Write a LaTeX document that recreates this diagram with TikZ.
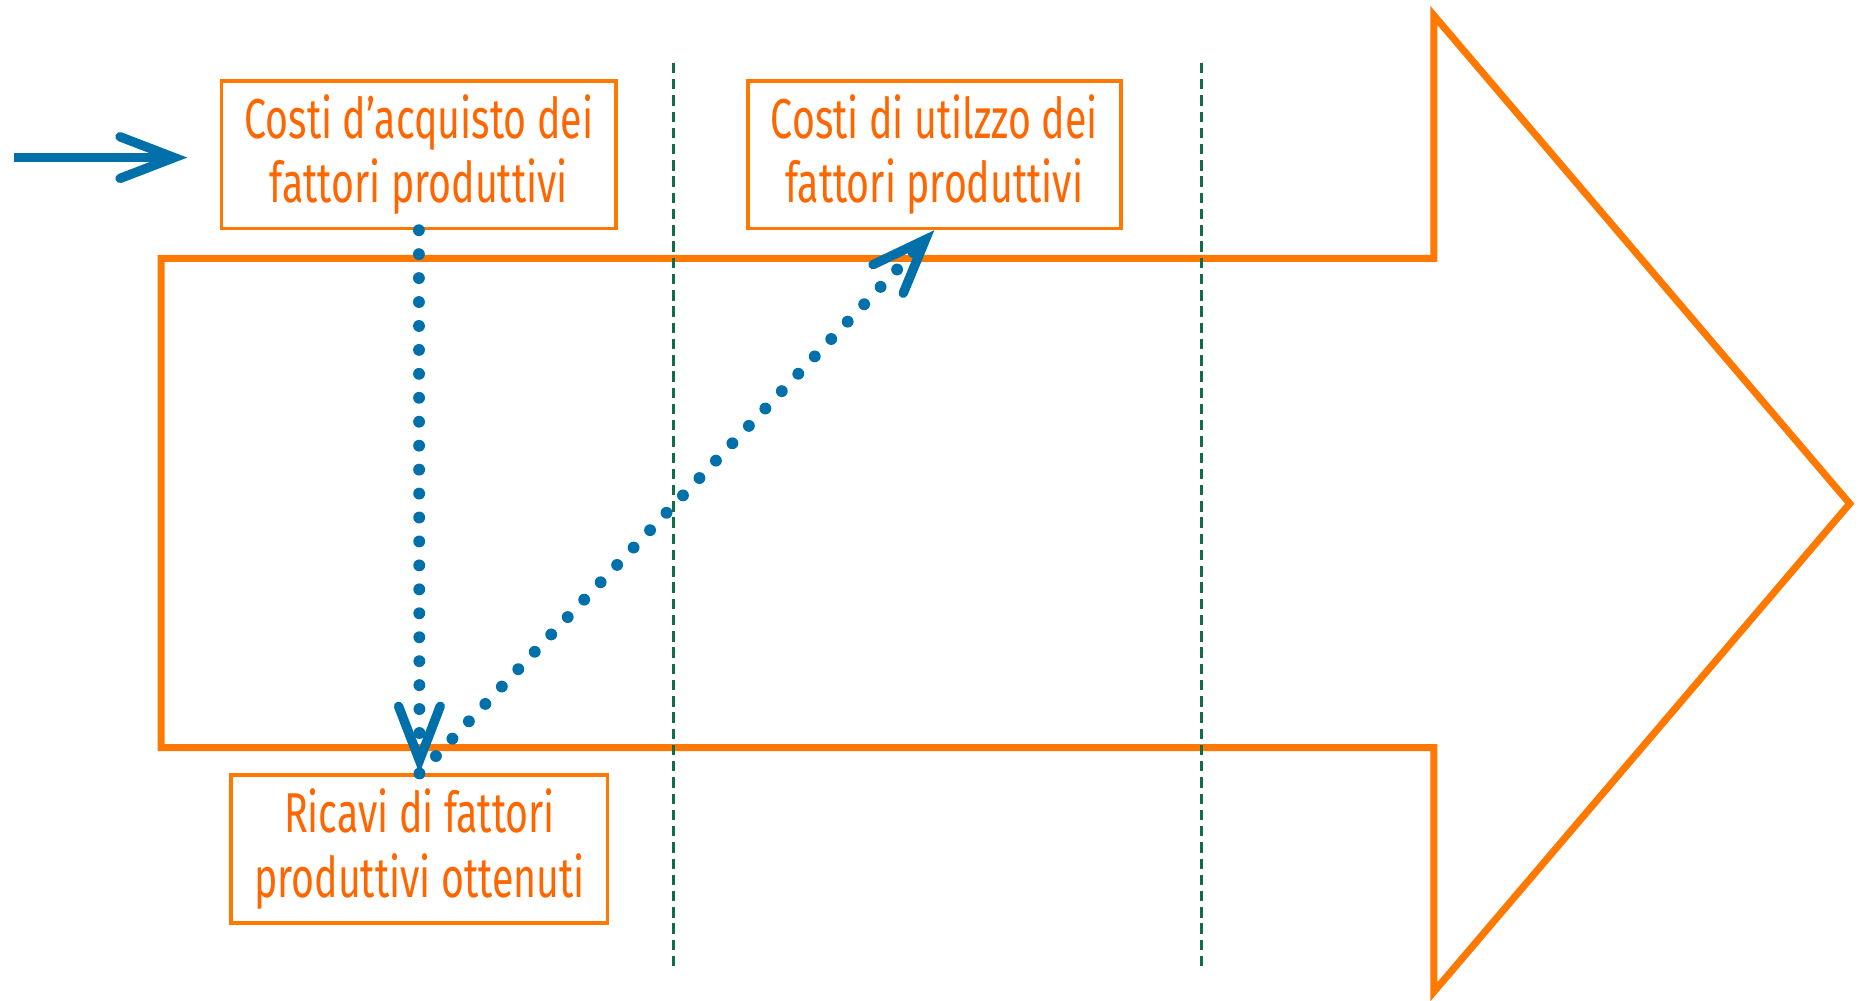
\documentclass[tikz,border=0pt]{standalone}
\usepackage{fontspec}
\newfontfamily\boxfont{Fira Sans}[FakeStretch=0.7]
\usetikzlibrary{arrows.meta}
\definecolor{arrowor}{RGB}{255,120,0}
\definecolor{textor}{RGB}{255,102,0}
\definecolor{flowblue}{RGB}{0,112,170}
\definecolor{sepgreen}{RGB}{18,108,72}

\begin{document}
\begin{tikzpicture}[x=0.02cm,y=-0.02cm,line join=miter,
    >={Straight Barb[length=26pt,width=20pt,line width=4.5pt,line cap=round,line join=miter]},
    phasebox/.style={draw=arrowor,line width=1.7pt,text=textor,align=center,
        font=\boxfont\fontsize{27}{31}\selectfont,minimum height=70.9pt,inner xsep=11pt},
    flow/.style={draw=flowblue,line width=5.7pt,line cap=round,dash pattern=on 0pt off 11.5pt,->},
    sepline/.style={draw=sepgreen,line width=1.4pt,dash pattern=on 5pt off 2.8pt}]
    \useasboundingbox (0,0) rectangle (1568,844);
    \draw [draw=arrowor,line width=3.4pt] (136,218) -- (1210,218) -- (1210,13) -- (1561,425) -- (1210,837) -- (1210,631) -- (136,631) -- cycle;
    \foreach \x in {568,1014}
        \draw [sepline] (\x,53) -- (\x,820);
    \node [phasebox] (acquisto) at (353.5,130.5) {Costi d’acquisto dei\\fattori produttivi};
    \node [phasebox] (utilizzo) at (788.5,130.5) {Costi di utilzzo dei\\fattori produttivi};
    \node [phasebox] (ricavi) at (354,716.5) {Ricavi di fattori\\produttivi ottenuti};
    \coordinate (ingresso) at (12,133);
    \coordinate (entrata) at (158,133);
    \draw [draw=flowblue,line width=4.5pt,->] (ingresso) -- (entrata);
    \draw [flow] (acquisto.south) -- (ricavi.north);
    \draw [flow] (ricavi.north) -- (utilizzo.south);
\end{tikzpicture}
\end{document}
